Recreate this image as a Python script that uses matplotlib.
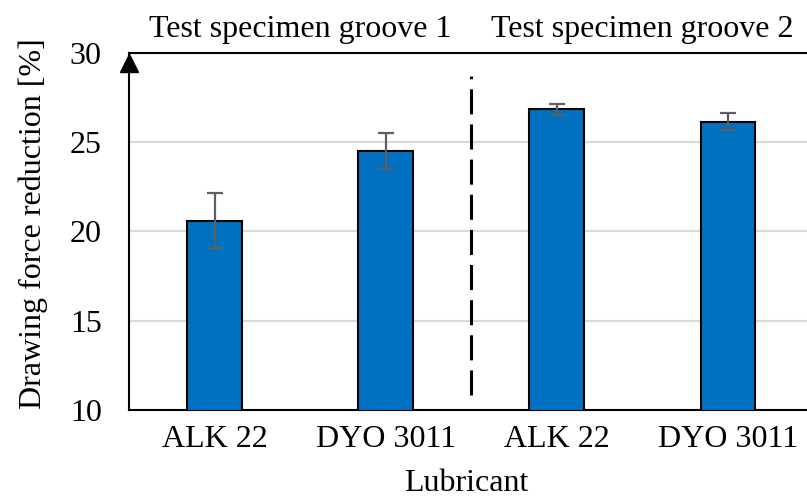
import numpy as np
import matplotlib
matplotlib.use("Agg")
import matplotlib.pyplot as plt

plt.rcParams['font.family'] = ['Liberation Serif', 'DejaVu Serif']

# data
lubricants = ["ALK 22", "DYO 3011", "ALK 22", "DYO 3011"]
reduction = [20.6, 24.5, 26.85, 26.15]
reduction_err = [1.55, 1.0, 0.3, 0.48]
group_titles = ["Test specimen groove 1", "Test specimen groove 2"]
yticks = [10, 15, 20, 25, 30]

W, H = 807, 498
fs = 23
fig = plt.figure(figsize=(W / 100, H / 100), dpi=100)
# axes runs a little past the right edge, like the original
ax_w = 813.5 - 129
ax = fig.add_axes([129 / W, 1 - 410 / H, ax_w / W, (410 - 53) / H])

x = np.arange(len(lubricants))
ax.bar(x, reduction, width=0.32, color="#0070C0", edgecolor="black",
       linewidth=1.5, zorder=3)
ax.errorbar(x, reduction, yerr=reduction_err, fmt="none", ecolor="#5f5f5f",
            elinewidth=1.6, capsize=5.5, capthick=1.6, zorder=4)

ax.set_xlim(-0.5, 3.5)
ax.set_ylim(10, 30)
ax.set_yticks(yticks)
ax.set_xticks(x)
ax.set_xticklabels(lubricants)
ax.tick_params(axis="both", length=0, labelsize=fs)
ax.tick_params(axis="y", pad=19.5)
ax.tick_params(axis="x", pad=11)
ax.grid(axis="y", color="#d9d9d9", linewidth=1.5, zorder=0)

for s in ["top", "bottom", "left"]:
    ax.spines[s].set_linewidth(1.5)
    ax.spines[s].set_color("black")
ax.spines["right"].set_visible(False)

# arrow head on y axis, tip at the top of the spine
ax.plot(-0.5, 29.42, marker="^", markersize=13.5, color="black", clip_on=False,
        zorder=6)
# dashed separator between the two grooves
ax.plot([1.5, 1.5], [10.84, 28.71], color="black", linestyle=(0, (8.2, 3.3)),
        linewidth=2.2, zorder=5)

ax.text(0.5, 30.9, group_titles[0], ha="center", va="baseline", fontsize=fs)
ax.text(2.5, 30.9, group_titles[1], ha="center", va="baseline", fontsize=fs)

ax.set_ylabel("Drawing force reduction [%]", fontsize=fs)
ax.yaxis.set_label_coords(-(129 - 48) / ax_w, 0.522)
fig.text(466 / W, 1 - 491 / H, "Lubricant", ha="center", va="baseline",
         fontsize=fs)

fig.savefig("out.png", dpi=100)
